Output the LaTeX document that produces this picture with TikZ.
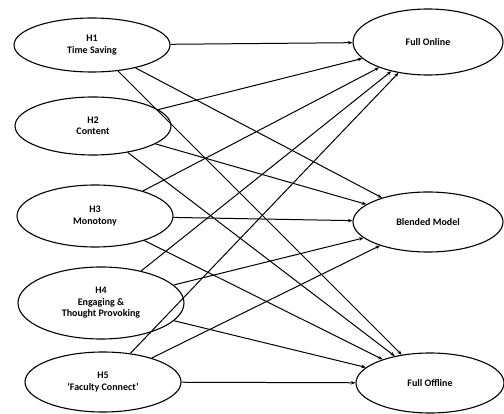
\documentclass[tikz,border=0pt]{standalone}
\usepackage{fontspec}
\setmainfont{Carlito}
\usetikzlibrary{shapes.geometric,arrows.meta}
\begin{document}
\begin{tikzpicture}[x=1pt,y=-1pt,
  hyp/.style={ellipse,draw,line width=1.1pt,inner sep=0pt,align=center,font=\fontsize{10}{11.5}\selectfont\bfseries},
  arr/.style={-{Stealth[length=4.5pt,width=3.5pt]},line width=1pt}]
\useasboundingbox (0,0) rectangle (504,414);
\node[hyp,minimum width=156,minimum height=54] (h1) at (92,45) {H1\\Time Saving};
\node[hyp,minimum width=156,minimum height=58] (h2) at (93,126) {H2\\Content};
\node[hyp,minimum width=156,minimum height=62] (h3) at (95,216) {H3\\Monotony};
\node[hyp,minimum width=166,minimum height=72] (h4) at (101,303) {H4\\Engaging \&\\Thought Provoking};
\node[hyp,minimum width=156,minimum height=60] (h5) at (103,382) {H5\\‘Faculty Connect’};
\node[hyp,minimum width=150,minimum height=66] (fo) at (428,42) {Full Online};
\node[hyp,minimum width=150,minimum height=60] (bm) at (428,222) {Blended Model};
\node[hyp,minimum width=148,minimum height=60] (ff) at (430,383) {Full Offline};
\foreach \s in {h1,h2,h3,h4,h5}{
  \foreach \t in {fo,bm,ff}{
    \draw[arr] (\s) -- (\t);
  }
}
\end{tikzpicture}
\end{document}
